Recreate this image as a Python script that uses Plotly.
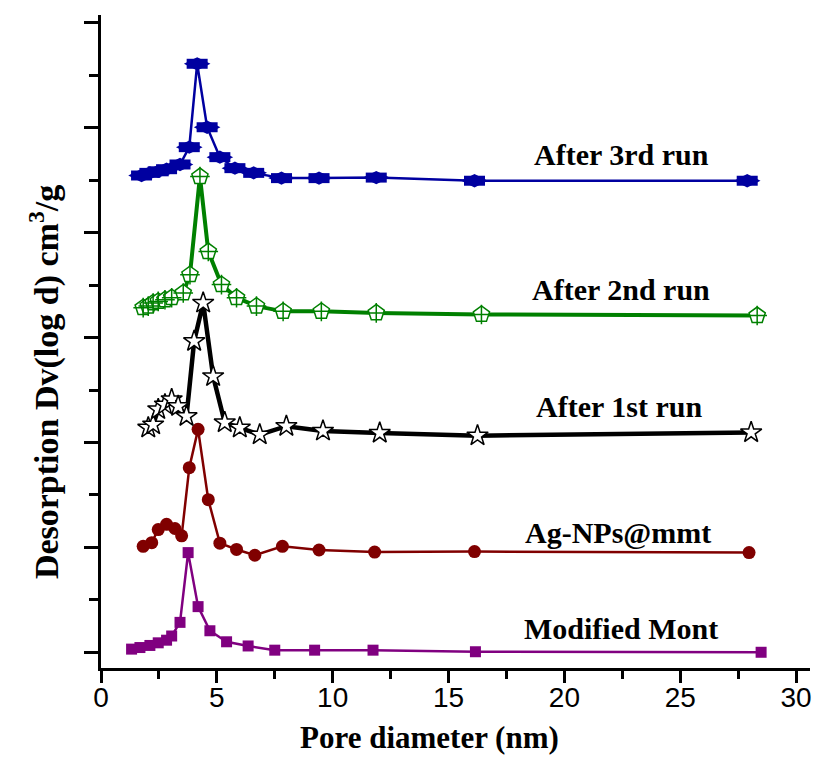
import plotly.graph_objects as go

# ---- data (x: pore diameter nm, y: stacked desorption Dv, arbitrary offset units) ----
mont_x = [1.32, 1.68, 2.11, 2.47, 2.83, 3.05, 3.41, 3.76, 4.19, 4.70, 5.42, 6.35, 7.50, 9.22, 11.74, 16.16, 28.49]
mont_y = [0.06, 0.09, 0.13, 0.18, 0.23, 0.31, 0.57, 1.90, 0.87, 0.41, 0.20, 0.12, 0.04, 0.04, 0.04, 0.01, 0.0]

ag_x = [1.82, 2.19, 2.47, 2.83, 3.19, 3.48, 3.81, 4.19, 4.63, 5.13, 5.85, 6.64, 7.83, 9.41, 11.81, 16.12, 27.97]
ag_y = [2.02, 2.09, 2.34, 2.44, 2.36, 2.22, 3.52, 4.25, 2.91, 2.08, 1.96, 1.85, 2.02, 1.95, 1.91, 1.92, 1.90]

run1_x = [2.04, 2.25, 2.47, 2.76, 3.05, 3.33, 3.69, 4.02, 4.41, 4.84, 5.34, 5.99, 6.85, 8.00, 9.58, 12.03, 16.25, 28.06]
run1_y = [4.28, 4.34, 4.63, 4.72, 4.82, 4.69, 4.50, 5.93, 6.66, 5.26, 4.38, 4.28, 4.15, 4.31, 4.22, 4.18, 4.13, 4.19]

run2_x = [1.82, 2.04, 2.25, 2.47, 2.76, 3.05, 3.55, 3.84, 4.27, 4.63, 5.20, 5.85, 6.71, 7.86, 9.51, 11.88, 16.42, 28.32]
run2_y = [6.57, 6.60, 6.66, 6.69, 6.72, 6.76, 6.85, 7.20, 9.07, 7.64, 7.01, 6.76, 6.60, 6.50, 6.50, 6.47, 6.44, 6.42]

run3_x = [1.75, 2.11, 2.47, 2.83, 3.41, 3.81, 4.15, 4.58, 5.13, 5.78, 6.59, 7.79, 9.41, 11.88, 16.12, 27.89]
run3_y = [9.09, 9.14, 9.17, 9.21, 9.30, 9.63, 11.22, 10.01, 9.44, 9.23, 9.14, 9.04, 9.04, 9.05, 8.99, 8.99]

labels = ["Modified Mont", "Ag-NPs@mmt", "After 1st run", "After 2nd run", "After 3rd run"]
label_x = [22.46, 22.33, 22.37, 22.46, 22.46]
label_y = [0.46, 2.29, 4.69, 6.91, 9.49]

x_ticks = [0, 5, 10, 15, 20, 25, 30]

BLUE = "#0000A0"
GREEN = "#008000"
RED = "#800000"
PURPLE = "#800080"

fig = go.Figure()

# Modified Mont
fig.add_trace(go.Scatter(x=mont_x, y=mont_y, mode="lines+markers",
                         line=dict(color=PURPLE, width=2.5),
                         marker=dict(symbol="square", size=11, color=PURPLE)))
# Ag-NPs@mmt
fig.add_trace(go.Scatter(x=ag_x, y=ag_y, mode="lines+markers",
                         line=dict(color=RED, width=2.5),
                         marker=dict(symbol="circle", size=13, color=RED)))
# After 1st run
fig.add_trace(go.Scatter(x=run1_x, y=run1_y, mode="lines+markers",
                         line=dict(color="black", width=4.5),
                         marker=dict(symbol="star", size=16, color="white",
                                     line=dict(color="black", width=1.5))))
# After 2nd run
fig.add_trace(go.Scatter(x=run2_x, y=run2_y, mode="lines+markers",
                         line=dict(color=GREEN, width=4),
                         marker=dict(symbol="pentagon", size=17, color="white",
                                     line=dict(color=GREEN, width=1.5))))
fig.add_trace(go.Scatter(x=run2_x, y=run2_y, mode="markers",
                         marker=dict(symbol="cross-thin", size=14, color=GREEN,
                                     line=dict(color=GREEN, width=1.5))))
# After 3rd run
fig.add_trace(go.Scatter(x=run3_x, y=run3_y, mode="lines+markers",
                         line=dict(color=BLUE, width=2.5),
                         marker=dict(symbol="diamond-wide", size=19, color=BLUE)))
fig.add_trace(go.Scatter(x=run3_x, y=run3_y, mode="markers",
                         marker=dict(symbol="line-ew", size=15, color=BLUE,
                                     line=dict(color=BLUE, width=10))))

for t, lx, ly in zip(labels, label_x, label_y):
    fig.add_annotation(x=lx, y=ly, xref="x", yref="y", text="<b>" + t + "</b>", showarrow=False,
                       font=dict(family="Liberation Serif", size=30, color="black"),
                       xanchor="center", yanchor="middle")

fig.add_annotation(x=0.463, y=-0.1057, xref="paper", yref="paper",
                   text="<b>Pore diameter (nm)</b>", showarrow=False,
                   font=dict(family="Liberation Serif", size=31, color="black"),
                   xanchor="center", yanchor="middle")
fig.add_annotation(x=-0.0788, y=0.438, xref="paper", yref="paper",
                   text="<b>Desorption Dv(log d) cm<sup>3</sup>/g</b>", showarrow=False,
                   textangle=-90,
                   font=dict(family="Liberation Serif", size=34, color="black"),
                   xanchor="center", yanchor="middle")

fig.update_layout(
    width=818, height=757,
    margin=dict(l=101, r=6, t=15, b=89),
    paper_bgcolor="white", plot_bgcolor="white",
    showlegend=False,
    xaxis=dict(range=[0, 30.6], tickmode="array", tickvals=x_ticks,
               ticktext=[str(v) for v in x_ticks],
               showline=True, linecolor="black", linewidth=3,
               ticks="outside", ticklen=12, tickwidth=2.5, tickcolor="black",
               ticklabelstandoff=-10,
               minor=dict(ticks="outside", ticklen=8, tickwidth=2.5, dtick=2.5, tick0=0,
                          tickcolor="black"),
               showgrid=False, zeroline=False,
               tickfont=dict(family="Liberation Sans", size=28, color="black")),
    yaxis=dict(range=[-0.30, 12.15], tickmode="linear", tick0=0, dtick=2,
               showticklabels=False,
               showline=True, linecolor="black", linewidth=3,
               ticks="outside", ticklen=14, tickwidth=2.5, tickcolor="black",
               minor=dict(ticks="outside", ticklen=9, tickwidth=2.5, dtick=1, tick0=0,
                          tickcolor="black"),
               showgrid=False, zeroline=False),
)

fig.write_html("out.html")
